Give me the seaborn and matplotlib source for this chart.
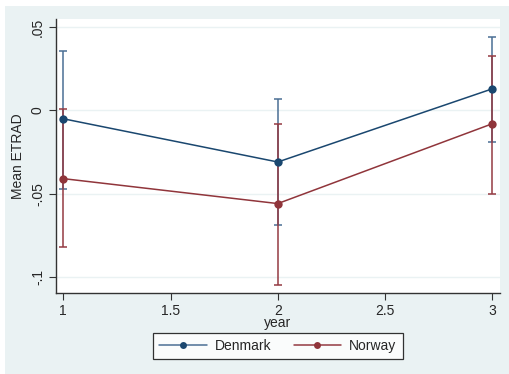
import numpy as np
import pandas as pd
import seaborn as sns
import matplotlib
matplotlib.use("Agg")
import matplotlib.pyplot as plt
from matplotlib.patches import Rectangle
from matplotlib.lines import Line2D

# Data

years = [1, 2, 3]
countries = ["Denmark", "Norway"]
denmark_mean = [-0.005, -0.031, 0.013]
denmark_lo = [-0.047, -0.069, -0.019]
denmark_hi = [0.036, 0.007, 0.044]
norway_mean = [-0.041, -0.056, -0.008]
norway_lo = [-0.082, -0.105, -0.050]
norway_hi = [0.001, -0.008, 0.033]

yticks = [0.05, 0, -0.05, -0.1]
ytick_labels = [".05", "0", "-.05", "-.1"]
xticks = [1, 1.5, 2, 2.5, 3]
xtick_labels = ["1", "1.5", "2", "2.5", "3"]

df = pd.DataFrame({
    "year": years * 2,
    "country": ["Denmark"] * 3 + ["Norway"] * 3,
    "mean": denmark_mean + norway_mean,
    "lo": denmark_lo + norway_lo,
    "hi": denmark_hi + norway_hi,
})

palette = {"Denmark": "#1a476f", "Norway": "#90353b"}
ci_colors = {"Denmark": "#4a6f94", "Norway": "#943a42"}
bg = "#eaf2f3"

sns.set_style("white")
plt.rcParams["font.family"] = ["Liberation Sans", "DejaVu Sans"]

fig = plt.figure(figsize=(5.09, 3.74), dpi=100, facecolor="white")
fig.patches.append(Rectangle((5 / 509, 0), 1, (374 - 6) / 374, transform=fig.transFigure,
                             facecolor=bg, edgecolor="none", zorder=-10))
ax = fig.add_axes([56 / 509, 1 - 292.7 / 374, 444 / 509, (292.7 - 19) / 374])
ax.set_facecolor("white")

# gridlines
for t in yticks:
    ax.axhline(t, color="#eaf2f3", lw=1.0, zorder=0)

# confidence intervals
for c in countries:
    sub = df[df["country"] == c]
    ax.errorbar(sub["year"], sub["mean"],
                yerr=[sub["mean"] - sub["lo"], sub["hi"] - sub["mean"]],
                fmt="none", ecolor=ci_colors[c], elinewidth=1.1, capsize=3,
                capthick=1.1, zorder=2)

sns.lineplot(data=df, x="year", y="mean", hue="country", palette=palette,
             marker="o", markersize=6, markeredgewidth=0, lw=1.1,
             ax=ax, legend=False, zorder=3)

ax.set_xlim(0.966, 3.036)
ax.set_ylim(-0.1096, 0.055)
ax.set_xticks(xticks)
ax.set_xticklabels(xtick_labels, fontsize=10)
ax.set_yticks(yticks)
ax.set_yticklabels(ytick_labels, fontsize=10, rotation=90, va="center")
ax.tick_params(axis="both", length=5, width=0.8, color="#333333", direction="out",
               bottom=True, left=True, pad=3)
ax.set_xlabel("year", fontsize=10, labelpad=-1)
ax.set_ylabel("Mean ETRAD", fontsize=10, labelpad=4)

for s in ["top", "right"]:
    ax.spines[s].set_visible(False)
for s in ["left", "bottom"]:
    ax.spines[s].set_color("#333333")
    ax.spines[s].set_linewidth(1.0)

handles = [Line2D([0], [0], color=ci_colors[c], lw=1.1, marker="o", markersize=5,
                  markerfacecolor=palette[c], markeredgewidth=0) for c in countries]
leg = fig.legend(handles, countries, loc="center", ncol=2,
                 bbox_to_anchor=(278 / 509, 1 - 346 / 374), frameon=True,
                 fancybox=False, edgecolor="black", facecolor="white",
                 fontsize=10, handlelength=3.4, handletextpad=0.6,
                 columnspacing=1.6, borderpad=0.45)
leg.get_frame().set_linewidth(0.9)

fig.savefig("out.png", dpi=100, facecolor="white")
